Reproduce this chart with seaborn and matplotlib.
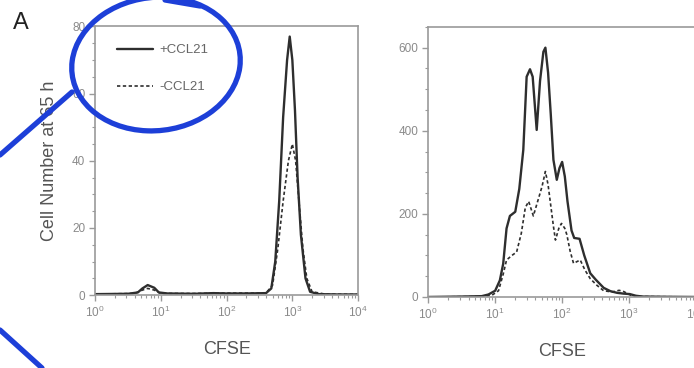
import numpy as np
import matplotlib
matplotlib.use("Agg")
import matplotlib.pyplot as plt
import seaborn as sns
from matplotlib.patches import Ellipse
from matplotlib.lines import Line2D
from matplotlib.ticker import MultipleLocator, LogLocator, LogFormatterMathtext, NullFormatter

# log10(CFSE) positions and cell counts
left_plus_x = [0.0, 0.5, 0.65, 0.72, 0.8, 0.9, 0.97, 1.1, 1.5, 1.8, 2.0, 2.3, 2.6, 2.68, 2.74,
               2.8, 2.86, 2.92, 2.96, 3.0, 3.04, 3.08, 3.13, 3.2, 3.27, 3.4, 3.7, 4.0]
left_plus_y = [0.3, 0.4, 0.8, 2.0, 3.0, 2.2, 0.8, 0.5, 0.4, 0.6, 0.5, 0.5, 0.6, 2, 10,
               28, 53, 70, 77, 70, 55, 35, 18, 5, 1, 0.3, 0.2, 0.2]
left_minus_x = [0.0, 0.6, 0.72, 0.8, 0.9, 1.0, 1.5, 2.0, 2.6, 2.7, 2.78, 2.86, 2.94, 3.0,
                3.05, 3.1, 3.16, 3.22, 3.3, 3.5, 4.0]
left_minus_y = [0.3, 0.5, 1.5, 2.0, 1.5, 0.5, 0.5, 0.6, 0.6, 3, 14, 28, 40, 45,
                40, 28, 14, 5, 1, 0.3, 0.2]

right_plus_x = [0.0, 0.5, 0.8, 0.9, 1.0, 1.07, 1.12, 1.17, 1.22, 1.3, 1.36, 1.42, 1.47, 1.52,
                1.56, 1.62, 1.67, 1.72, 1.75, 1.79, 1.83, 1.87, 1.92, 1.96, 2.0, 2.04, 2.08,
                2.14, 2.18, 2.26, 2.33, 2.42, 2.5, 2.62, 2.72, 2.82, 2.92, 3.01, 3.1, 3.2,
                3.5, 4.0]
right_plus_y = [0, 1, 2, 6, 15, 40, 80, 165, 195, 205, 260, 354, 530, 548,
                530, 402, 520, 590, 600, 540, 440, 330, 282, 310, 325, 290, 230,
                160, 142, 140, 100, 57, 42, 22, 14, 10, 8, 7, 3, 1,
                0.5, 0]
right_minus_x = [0.0, 0.8, 0.95, 1.05, 1.12, 1.17, 1.25, 1.32, 1.39, 1.45, 1.5, 1.57, 1.64,
                 1.7, 1.75, 1.79, 1.83, 1.87, 1.9, 1.95, 1.99, 2.04, 2.07, 2.12, 2.17, 2.22,
                 2.27, 2.34, 2.42, 2.52, 2.62, 2.75, 2.85, 2.92, 3.0, 3.06, 3.2, 4.0]
right_minus_y = [0, 1, 4, 15, 55, 89, 100, 108, 153, 215, 230, 195, 233,
                 266, 302, 270, 220, 170, 137, 165, 177, 165, 150, 110, 81, 85,
                 89, 65, 44, 28, 15, 12, 16, 13, 6, 2, 1, 0]

labels = ["+CCL21", "-CCL21"]
y_label = "Cell Number at 65 h"
x_label = "CFSE"

sns.set_style("ticks")
plt.rcParams["font.family"] = ["Liberation Sans", "DejaVu Sans"]

LINE = "#2e2e2e"
SPINE = "#9a9a9a"
TICK = "#8a8a8a"

fig = plt.figure(figsize=(6.94, 3.68), dpi=100)
ax1 = fig.add_axes([0.137, 0.198, 0.379, 0.730])
ax2 = fig.add_axes([0.617, 0.193, 0.386, 0.734])


def draw_panel(ax, xs_plus, ys_plus, xs_minus, ys_minus, ymax, ystep, yminor):
    sns.lineplot(x=10 ** np.array(xs_plus), y=ys_plus, ax=ax, color=LINE, lw=1.7,
                 sort=False, label=labels[0])
    sns.lineplot(x=10 ** np.array(xs_minus), y=ys_minus, ax=ax, color=LINE, lw=1.2,
                 sort=False, label=labels[1], linestyle=(0, (2, 1.5)))
    ax.set_xscale("log")
    ax.set_xlim(1, 1e4)
    ax.set_ylim(0, ymax)
    ax.xaxis.set_major_locator(LogLocator(base=10, numticks=10))
    ax.xaxis.set_major_formatter(LogFormatterMathtext())
    ax.xaxis.set_minor_locator(LogLocator(base=10, subs=np.arange(2, 10), numticks=20))
    ax.xaxis.set_minor_formatter(NullFormatter())
    ax.yaxis.set_major_locator(MultipleLocator(ystep))
    ax.yaxis.set_minor_locator(MultipleLocator(yminor))
    for s in ax.spines.values():
        s.set_color(SPINE)
        s.set_linewidth(1.2)
    ax.tick_params(which="major", length=4, width=1, color=SPINE, labelsize=8.5,
                   labelcolor=TICK, pad=3)
    ax.tick_params(which="minor", length=2, width=0.8, color=SPINE)
    ax.set_xlabel(x_label, fontsize=13, color="#555555", labelpad=15)
    ax.set_ylabel("")


draw_panel(ax1, left_plus_x, left_plus_y, left_minus_x, left_minus_y, 80, 20, 5)
draw_panel(ax2, right_plus_x, right_plus_y, right_minus_x, right_minus_y, 650, 200, 50)

ax1.set_ylabel(y_label, fontsize=13, color="#555555", labelpad=10)
ax1.legend(loc="upper left", bbox_to_anchor=(0.084, 0.935), frameon=False, fontsize=9.5,
           handlelength=2.7, handletextpad=0.5, labelspacing=1.9, borderaxespad=0,
           borderpad=0, labelcolor="#666666")
ax2.get_legend().remove()

fig.text(0.018, 0.92, "A", fontsize=17, color="#222222")

# blue pen annotation over the legend
BLUE = "#1d3fd8"
W, H = 694, 368
fig.add_artist(Ellipse((156 / W, 1 - 64 / H), 168 / W, 134 / H, angle=-4, fill=False,
                       edgecolor=BLUE, lw=3.8, transform=fig.transFigure))
fig.add_artist(Line2D([0 / W, 72 / W], [1 - 155 / H, 1 - 92 / H], color=BLUE, lw=3.8,
                      transform=fig.transFigure))
fig.add_artist(Line2D([0 / W, 42 / W], [1 - 330 / H, 1 - 368 / H], color=BLUE, lw=3.8,
                      transform=fig.transFigure))
fig.add_artist(Line2D([165 / W, 200 / W], [1 - 0 / H, 1 - 6 / H], color=BLUE, lw=3.8,
                      transform=fig.transFigure))

fig.savefig("out.png", dpi=100)
